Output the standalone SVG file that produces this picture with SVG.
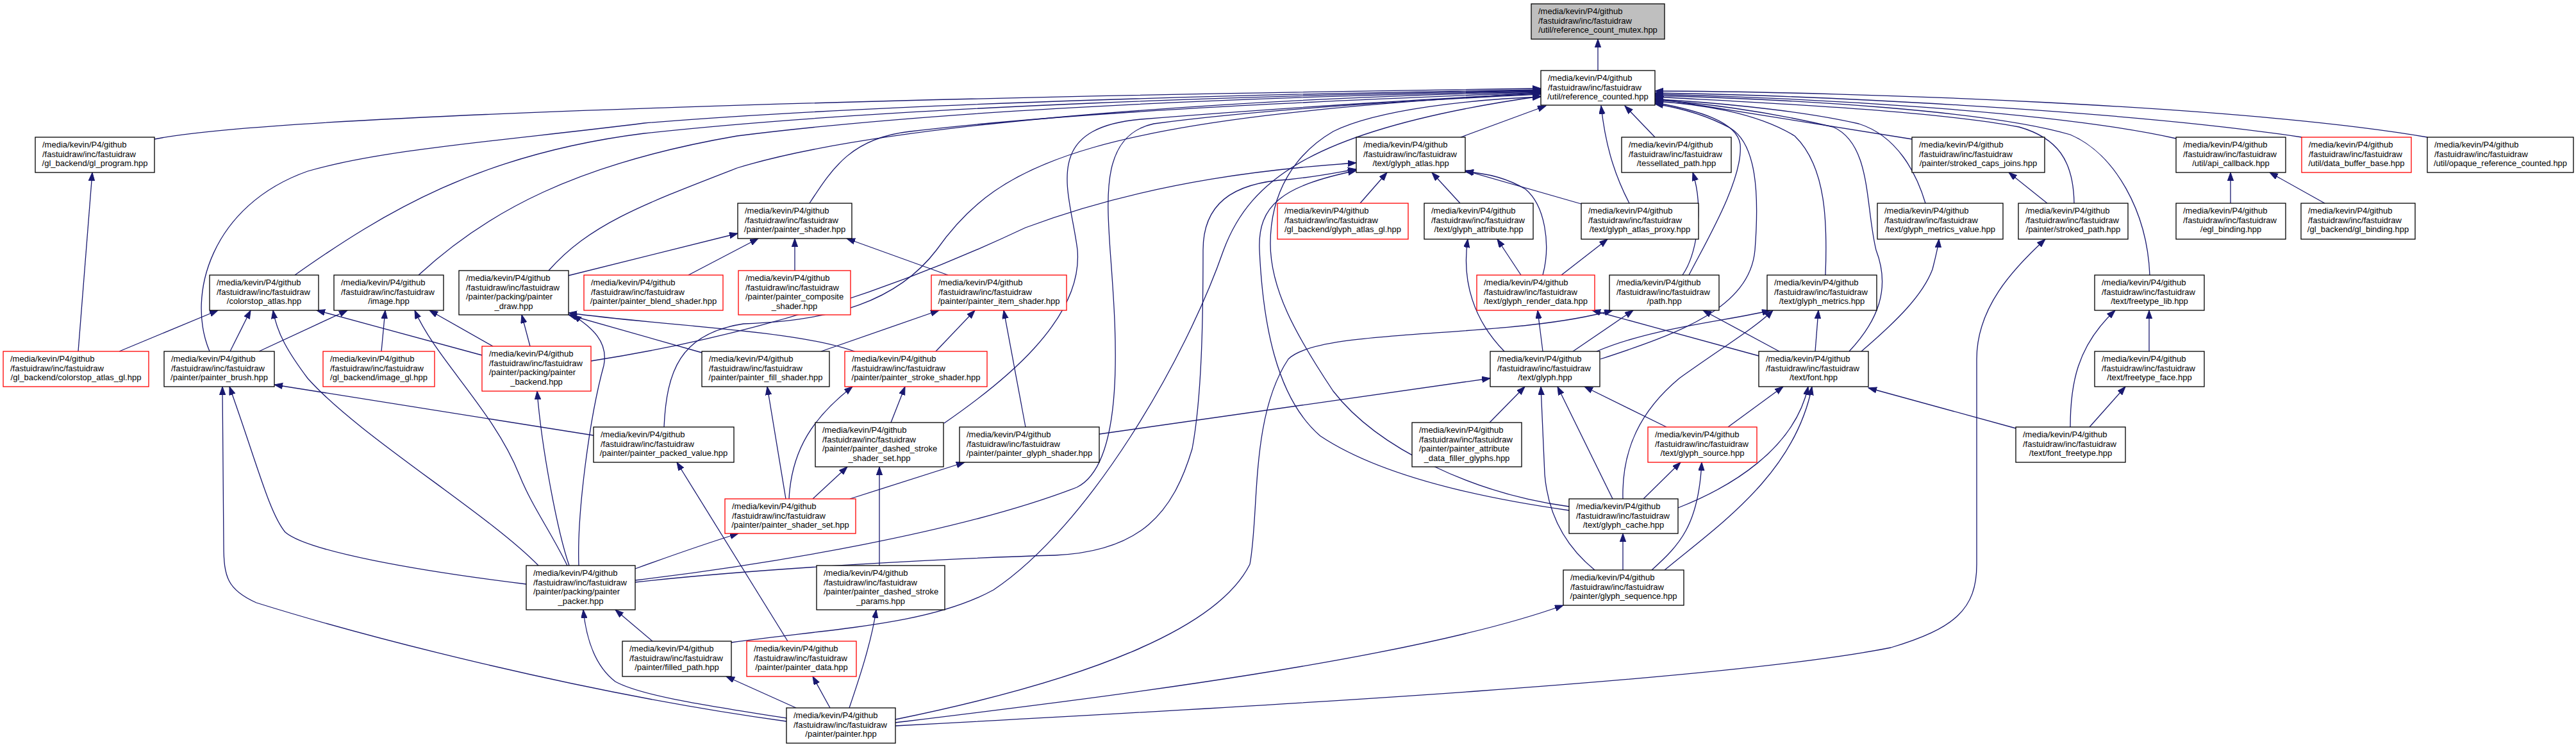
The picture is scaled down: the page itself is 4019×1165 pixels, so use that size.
<svg xmlns="http://www.w3.org/2000/svg" width="4019" height="1165" viewBox="0 0 4019 1165">
<defs>
<marker id="a" markerUnits="userSpaceOnUse" markerWidth="14" markerHeight="10" refX="13" refY="4.7" orient="auto"><path d="M0,0L13,4.7L0,9.4z" fill="#191970" stroke="#191970" stroke-width="1"/></marker>
<style>
.n rect{fill:#fff;stroke:#000;stroke-width:1.3}
.r rect{stroke:#f00}
.g rect{fill:#bfbfbf}
text{font-family:"Liberation Sans",Arial,Helvetica,sans-serif;font-size:13px;fill:#000}
.c{text-anchor:middle}
.e path{fill:none;stroke:#191970;stroke-width:1.3;marker-end:url(#a)}
</style>
</defs>
<rect width="4019" height="1165" fill="#fff"/>
<g class="e" id="edges">
<path d="M2493,110 L2493,61"/>
<path d="M241,217 C430,178 1500,150 2404,138"/>
<path d="M327,548 C290,460 330,320 480,267 C600,232 800,218 1005,192 C1400,160 2000,146 2404,140"/>
<path d="M460,429 C600,330 750,240 1005,208 C1400,165 2000,148 2404,141"/>
<path d="M653,429 C760,330 900,255 1150,212 C1500,168 2000,150 2404,142"/>
<path d="M856,422 C920,350 1000,320 1150,262 C1400,185 2000,152 2404,143"/>
<path d="M1263,317 C1300,260 1330,215 1420,205 C1700,172 2100,156 2404,144"/>
<path d="M1036,666 C1040,580 1060,520 1160,505 C1300,500 1400,470 1461,390 C1560,250 1700,185 2404,145"/>
<path d="M1473,660 C1560,600 1690,500 1681,390 C1670,300 1620,200 1780,186 C2000,168 2300,150 2404,146"/>
<path d="M991,905 C1200,880 1500,830 1680,760 C1760,720 1740,500 1732,390 C1726,300 1720,210 1800,193 C2000,166 2300,152 2404,147"/>
<path d="M1141,1002 C1300,980 1450,975 1550,920 C1700,820 1850,560 1909,390 C1950,280 2050,200 2404,150"/>
<path d="M2448,790 C2300,770 2150,700 2080,610 C2020,520 1982,450 1982,380 C1982,300 2020,240 2080,205 C2150,170 2300,155 2404,151"/>
<path d="M2279,214 L2412,165"/>
<path d="M2542,317 C2516,267 2504,220 2498,165"/>
<path d="M2582,214 L2535,165"/>
<path d="M2635,429 C2660,380 2720,280 2715,225 C2710,190 2650,172 2582,160"/>
<path d="M2497,560 C2620,520 2730,480 2738,390 C2745,300 2740,225 2700,200 C2660,178 2620,168 2582,162"/>
<path d="M2848,429 C2851,350 2850,260 2800,212 C2740,175 2650,162 2582,158"/>
<path d="M2885,548 C2930,500 2950,450 2927,390 C2910,320 2920,225 2860,198 C2750,172 2650,160 2582,156"/>
<path d="M3004,317 C2990,270 2960,212 2900,193 C2800,170 2650,158 2582,155"/>
<path d="M2983,217 L2582,153"/>
<path d="M3236,317 C3235,250 3210,215 3150,198 C3000,170 2700,158 2582,151"/>
<path d="M3354,429 C3350,330 3300,240 3230,210 C3100,172 2800,155 2582,149"/>
<path d="M3395,216 C3200,172 2800,152 2582,147"/>
<path d="M3591,214 C3300,170 2800,148 2582,145"/>
<path d="M3787,214 C3500,165 2900,143 2582,142"/>
<path d="M122,548 L144,269"/>
<path d="M186,548 L340,484"/>
<path d="M359,548 L391,484"/>
<path d="M404,548 L542,484"/>
<path d="M595,548 L601,484"/>
<path d="M840,882 C760,800 560,680 480,590 C450,550 432,520 426,484"/>
<path d="M885,882 C860,830 830,790 810,740 C770,640 680,560 647,484"/>
<path d="M888,882 C870,830 845,700 838,610"/>
<path d="M903,882 C900,800 920,650 942,570 C950,530 920,510 894,491"/>
<path d="M821,911 C650,890 480,860 445,830 C420,800 400,720 358,603"/>
<path d="M991,887 C1060,862 1110,845 1152,832"/>
<path d="M991,908 C1200,885 1500,870 1646,866 C1780,860 1830,800 1860,700 C1875,620 1877,500 1877,390 C1877,320 1920,285 2010,280 C2060,275 2090,268 2116,264"/>
<path d="M1227,1120 C1100,1100 1000,1085 960,1063 C930,1040 915,1000 910,951"/>
<path d="M1227,1125 C900,1080 560,990 400,940 C355,920 349,900 349,850 L347,603"/>
<path d="M1242,1104 L1133,1055"/>
<path d="M1295,1104 L1268,1055"/>
<path d="M1325,1104 C1340,1060 1360,1000 1367,951"/>
<path d="M1397,1122 C1700,1060 1900,980 1950,880 C1965,800 1950,650 2010,560 C2060,510 2350,530 2516,484"/>
<path d="M1397,1127 C1700,1090 2200,1030 2439,944"/>
<path d="M1397,1132 C2000,1100 2700,1060 2950,1010 C3050,980 3084,950 3084,880 L3084,560 C3084,480 3140,420 3191,373"/>
<path d="M1229,1000 L1056,721"/>
<path d="M1018,1000 L960,951"/>
<path d="M1372,882 L1372,728"/>
<path d="M1226,778 L1197,603"/>
<path d="M1231,778 C1235,700 1270,650 1330,603"/>
<path d="M1268,778 L1322,728"/>
<path d="M1326,778 L1505,721"/>
<path d="M1390,659 L1412,603"/>
<path d="M1281,548 L1465,484"/>
<path d="M1460,548 L1521,484"/>
<path d="M1600,666 L1566,484"/>
<path d="M1095,550 L887,491"/>
<path d="M1338,550 C1250,515 1050,510 887,488"/>
<path d="M886,430 L1151,364"/>
<path d="M1074,429 L1183,372"/>
<path d="M1240,422 L1240,372"/>
<path d="M1479,429 L1321,372"/>
<path d="M752,554 L494,484"/>
<path d="M769,540 L670,484"/>
<path d="M827,540 L814,491"/>
<path d="M922,563 C1200,520 1420,440 1600,355 C1800,280 2000,262 2116,254"/>
<path d="M926,679 L428,600"/>
<path d="M1715,677 L2325,590"/>
<path d="M2122,317 L2164,269"/>
<path d="M2278,317 L2234,269"/>
<path d="M2467,318 L2286,266"/>
<path d="M2407,429 C2420,380 2410,320 2380,295 C2350,277 2320,270 2286,268"/>
<path d="M2373,429 L2336,373"/>
<path d="M2436,429 L2508,373"/>
<path d="M2347,548 C2300,500 2280,440 2290,373"/>
<path d="M2407,548 L2399,484"/>
<path d="M2454,548 L2548,484"/>
<path d="M2491,548 C2580,510 2700,500 2762,484"/>
<path d="M2776,548 L2657,484"/>
<path d="M2832,548 L2837,484"/>
<path d="M2744,555 L2484,484"/>
<path d="M2904,548 C2960,500 3000,460 3015,420 C3020,400 3024,385 3025,373"/>
<path d="M2324,659 L2379,603"/>
<path d="M2600,666 L2472,603"/>
<path d="M2696,666 L2782,603"/>
<path d="M2516,778 L2430,603"/>
<path d="M2564,778 L2622,721"/>
<path d="M2532,778 C2530,700 2560,640 2620,590 C2690,540 2740,510 2766,484"/>
<path d="M2618,792 C2700,760 2800,700 2821,603"/>
<path d="M2532,889 L2532,832"/>
<path d="M2488,889 C2440,850 2415,800 2410,740 L2404,603"/>
<path d="M2577,889 C2620,850 2650,820 2655,721"/>
<path d="M2597,889 C2680,820 2800,740 2827,603"/>
<path d="M2448,796 C2300,775 2150,740 2060,680 C1990,620 1970,500 1965,390 C1962,320 2000,290 2116,266"/>
<path d="M3194,317 L3134,269"/>
<path d="M3480,317 L3480,269"/>
<path d="M3627,317 L3541,269"/>
<path d="M3353,548 L3353,484"/>
<path d="M3260,666 L3316,603"/>
<path d="M3230,666 C3230,600 3240,540 3300,484"/>
<path d="M3145,668 L2915,605"/>
<path d="M2625,429 C2645,400 2660,330 2641,269"/>
</g>
<g id="mutex" class="n g"><rect x="2389" y="6" width="208" height="55"/><text x="2400" y="22">/media/kevin/P4/github</text><text x="2400" y="36.7">/fastuidraw/inc/fastuidraw</text><text class="c" x="2493" y="51.4">/util/reference_count_mutex.hpp</text></g>
<g id="counted" class="n"><rect x="2404" y="110" width="178" height="54"/><text x="2415" y="126">/media/kevin/P4/github</text><text x="2415" y="140.7">/fastuidraw/inc/fastuidraw</text><text class="c" x="2493" y="155.4">/util/reference_counted.hpp</text></g>
<g id="gl_program" class="n"><rect x="55" y="214" width="186" height="55"/><text x="66" y="230">/media/kevin/P4/github</text><text x="66" y="244.7">/fastuidraw/inc/fastuidraw</text><text class="c" x="148" y="259.4">/gl_backend/gl_program.hpp</text></g>
<g id="glyph_atlas" class="n"><rect x="2116" y="214" width="170" height="55"/><text x="2127" y="230">/media/kevin/P4/github</text><text x="2127" y="244.7">/fastuidraw/inc/fastuidraw</text><text class="c" x="2201" y="259.4">/text/glyph_atlas.hpp</text></g>
<g id="tessellated_path" class="n"><rect x="2530" y="214" width="171" height="55"/><text x="2541" y="230">/media/kevin/P4/github</text><text x="2541" y="244.7">/fastuidraw/inc/fastuidraw</text><text class="c" x="2615.5" y="259.4">/tessellated_path.hpp</text></g>
<g id="stroked_caps_joins" class="n"><rect x="2983" y="214" width="207" height="55"/><text x="2994" y="230">/media/kevin/P4/github</text><text x="2994" y="244.7">/fastuidraw/inc/fastuidraw</text><text class="c" x="3086.5" y="259.4">/painter/stroked_caps_joins.hpp</text></g>
<g id="api_callback" class="n"><rect x="3395" y="214" width="171" height="55"/><text x="3406" y="230">/media/kevin/P4/github</text><text x="3406" y="244.7">/fastuidraw/inc/fastuidraw</text><text class="c" x="3480.5" y="259.4">/util/api_callback.hpp</text></g>
<g id="data_buffer_base" class="n r"><rect x="3591" y="214" width="171" height="55"/><text x="3602" y="230">/media/kevin/P4/github</text><text x="3602" y="244.7">/fastuidraw/inc/fastuidraw</text><text class="c" x="3676.5" y="259.4">/util/data_buffer_base.hpp</text></g>
<g id="opaque_reference_counted" class="n"><rect x="3787" y="214" width="228" height="55"/><text x="3798" y="230">/media/kevin/P4/github</text><text x="3798" y="244.7">/fastuidraw/inc/fastuidraw</text><text class="c" x="3901" y="259.4">/util/opaque_reference_counted.hpp</text></g>
<g id="painter_shader" class="n"><rect x="1151" y="317" width="178" height="55"/><text x="1162" y="333">/media/kevin/P4/github</text><text x="1162" y="347.7">/fastuidraw/inc/fastuidraw</text><text class="c" x="1240" y="362.4">/painter/painter_shader.hpp</text></g>
<g id="glyph_atlas_gl" class="n r"><rect x="1993" y="317" width="204" height="56"/><text x="2004" y="333">/media/kevin/P4/github</text><text x="2004" y="347.7">/fastuidraw/inc/fastuidraw</text><text class="c" x="2095" y="362.4">/gl_backend/glyph_atlas_gl.hpp</text></g>
<g id="glyph_attribute" class="n"><rect x="2222" y="317" width="170" height="56"/><text x="2233" y="333">/media/kevin/P4/github</text><text x="2233" y="347.7">/fastuidraw/inc/fastuidraw</text><text class="c" x="2307" y="362.4">/text/glyph_attribute.hpp</text></g>
<g id="glyph_atlas_proxy" class="n"><rect x="2467" y="317" width="183" height="56"/><text x="2478" y="333">/media/kevin/P4/github</text><text x="2478" y="347.7">/fastuidraw/inc/fastuidraw</text><text class="c" x="2558.5" y="362.4">/text/glyph_atlas_proxy.hpp</text></g>
<g id="glyph_metrics_value" class="n"><rect x="2929" y="317" width="196" height="56"/><text x="2940" y="333">/media/kevin/P4/github</text><text x="2940" y="347.7">/fastuidraw/inc/fastuidraw</text><text class="c" x="3027" y="362.4">/text/glyph_metrics_value.hpp</text></g>
<g id="stroked_path" class="n"><rect x="3149" y="317" width="171" height="56"/><text x="3160" y="333">/media/kevin/P4/github</text><text x="3160" y="347.7">/fastuidraw/inc/fastuidraw</text><text class="c" x="3234.5" y="362.4">/painter/stroked_path.hpp</text></g>
<g id="egl_binding" class="n"><rect x="3395" y="317" width="171" height="56"/><text x="3406" y="333">/media/kevin/P4/github</text><text x="3406" y="347.7">/fastuidraw/inc/fastuidraw</text><text class="c" x="3480.5" y="362.4">/egl_binding.hpp</text></g>
<g id="gl_binding" class="n"><rect x="3590" y="317" width="178" height="56"/><text x="3601" y="333">/media/kevin/P4/github</text><text x="3601" y="347.7">/fastuidraw/inc/fastuidraw</text><text class="c" x="3679" y="362.4">/gl_backend/gl_binding.hpp</text></g>
<g id="colorstop_atlas" class="n"><rect x="327" y="429" width="170" height="55"/><text x="338" y="445">/media/kevin/P4/github</text><text x="338" y="459.7">/fastuidraw/inc/fastuidraw</text><text class="c" x="412" y="474.4">/colorstop_atlas.hpp</text></g>
<g id="image" class="n"><rect x="521" y="429" width="171" height="55"/><text x="532" y="445">/media/kevin/P4/github</text><text x="532" y="459.7">/fastuidraw/inc/fastuidraw</text><text class="c" x="606.5" y="474.4">/image.hpp</text></g>
<g id="painter_draw" class="n"><rect x="716" y="422" width="171" height="69"/><text x="727" y="438">/media/kevin/P4/github</text><text x="727" y="452.7">/fastuidraw/inc/fastuidraw</text><text x="727" y="467.4">/painter/packing/painter</text><text class="c" x="801.5" y="482.1">_draw.hpp</text></g>
<g id="painter_blend_shader" class="n r"><rect x="911" y="429" width="217" height="55"/><text x="922" y="445">/media/kevin/P4/github</text><text x="922" y="459.7">/fastuidraw/inc/fastuidraw</text><text class="c" x="1019.5" y="474.4">/painter/painter_blend_shader.hpp</text></g>
<g id="painter_composite_shader" class="n r"><rect x="1152" y="422" width="175" height="69"/><text x="1163" y="438">/media/kevin/P4/github</text><text x="1163" y="452.7">/fastuidraw/inc/fastuidraw</text><text x="1163" y="467.4">/painter/painter_composite</text><text class="c" x="1239.5" y="482.1">_shader.hpp</text></g>
<g id="painter_item_shader" class="n r"><rect x="1453" y="429" width="211" height="55"/><text x="1464" y="445">/media/kevin/P4/github</text><text x="1464" y="459.7">/fastuidraw/inc/fastuidraw</text><text class="c" x="1558.5" y="474.4">/painter/painter_item_shader.hpp</text></g>
<g id="glyph_render_data" class="n r"><rect x="2304" y="429" width="184" height="55"/><text x="2315" y="445">/media/kevin/P4/github</text><text x="2315" y="459.7">/fastuidraw/inc/fastuidraw</text><text class="c" x="2396" y="474.4">/text/glyph_render_data.hpp</text></g>
<g id="path" class="n"><rect x="2511" y="429" width="171" height="55"/><text x="2522" y="445">/media/kevin/P4/github</text><text x="2522" y="459.7">/fastuidraw/inc/fastuidraw</text><text class="c" x="2596.5" y="474.4">/path.hpp</text></g>
<g id="glyph_metrics" class="n"><rect x="2757" y="429" width="171" height="55"/><text x="2768" y="445">/media/kevin/P4/github</text><text x="2768" y="459.7">/fastuidraw/inc/fastuidraw</text><text class="c" x="2842.5" y="474.4">/text/glyph_metrics.hpp</text></g>
<g id="freetype_lib" class="n"><rect x="3268" y="429" width="171" height="55"/><text x="3279" y="445">/media/kevin/P4/github</text><text x="3279" y="459.7">/fastuidraw/inc/fastuidraw</text><text class="c" x="3353.5" y="474.4">/text/freetype_lib.hpp</text></g>
<g id="colorstop_atlas_gl" class="n r"><rect x="5" y="548" width="227" height="55"/><text x="16" y="564">/media/kevin/P4/github</text><text x="16" y="578.7">/fastuidraw/inc/fastuidraw</text><text class="c" x="118.5" y="593.4">/gl_backend/colorstop_atlas_gl.hpp</text></g>
<g id="painter_brush" class="n"><rect x="256" y="548" width="172" height="55"/><text x="267" y="564">/media/kevin/P4/github</text><text x="267" y="578.7">/fastuidraw/inc/fastuidraw</text><text class="c" x="342" y="593.4">/painter/painter_brush.hpp</text></g>
<g id="image_gl" class="n r"><rect x="504" y="548" width="174" height="55"/><text x="515" y="564">/media/kevin/P4/github</text><text x="515" y="578.7">/fastuidraw/inc/fastuidraw</text><text class="c" x="591" y="593.4">/gl_backend/image_gl.hpp</text></g>
<g id="painter_backend" class="n r"><rect x="752" y="540" width="170" height="70"/><text x="763" y="556">/media/kevin/P4/github</text><text x="763" y="570.7">/fastuidraw/inc/fastuidraw</text><text x="763" y="585.4">/painter/packing/painter</text><text class="c" x="837" y="600.1">_backend.hpp</text></g>
<g id="painter_fill_shader" class="n"><rect x="1095" y="548" width="199" height="55"/><text x="1106" y="564">/media/kevin/P4/github</text><text x="1106" y="578.7">/fastuidraw/inc/fastuidraw</text><text class="c" x="1194.5" y="593.4">/painter/painter_fill_shader.hpp</text></g>
<g id="painter_stroke_shader" class="n r"><rect x="1318" y="548" width="222" height="55"/><text x="1329" y="564">/media/kevin/P4/github</text><text x="1329" y="578.7">/fastuidraw/inc/fastuidraw</text><text class="c" x="1429" y="593.4">/painter/painter_stroke_shader.hpp</text></g>
<g id="glyph" class="n"><rect x="2325" y="548" width="171" height="55"/><text x="2336" y="564">/media/kevin/P4/github</text><text x="2336" y="578.7">/fastuidraw/inc/fastuidraw</text><text class="c" x="2410.5" y="593.4">/text/glyph.hpp</text></g>
<g id="font" class="n"><rect x="2744" y="548" width="171" height="55"/><text x="2755" y="564">/media/kevin/P4/github</text><text x="2755" y="578.7">/fastuidraw/inc/fastuidraw</text><text class="c" x="2829.5" y="593.4">/text/font.hpp</text></g>
<g id="freetype_face" class="n"><rect x="3268" y="548" width="171" height="55"/><text x="3279" y="564">/media/kevin/P4/github</text><text x="3279" y="578.7">/fastuidraw/inc/fastuidraw</text><text class="c" x="3353.5" y="593.4">/text/freetype_face.hpp</text></g>
<g id="painter_packed_value" class="n"><rect x="926" y="666" width="219" height="55"/><text x="937" y="682">/media/kevin/P4/github</text><text x="937" y="696.7">/fastuidraw/inc/fastuidraw</text><text class="c" x="1035.5" y="711.4">/painter/painter_packed_value.hpp</text></g>
<g id="painter_dashed_stroke_shader_set" class="n"><rect x="1272" y="659" width="200" height="69"/><text x="1283" y="675">/media/kevin/P4/github</text><text x="1283" y="689.7">/fastuidraw/inc/fastuidraw</text><text x="1283" y="704.4">/painter/painter_dashed_stroke</text><text class="c" x="1372" y="719.1">_shader_set.hpp</text></g>
<g id="painter_glyph_shader" class="n"><rect x="1497" y="666" width="218" height="55"/><text x="1508" y="682">/media/kevin/P4/github</text><text x="1508" y="696.7">/fastuidraw/inc/fastuidraw</text><text class="c" x="1606" y="711.4">/painter/painter_glyph_shader.hpp</text></g>
<g id="painter_attribute_data_filler_glyphs" class="n"><rect x="2203" y="659" width="171" height="69"/><text x="2214" y="675">/media/kevin/P4/github</text><text x="2214" y="689.7">/fastuidraw/inc/fastuidraw</text><text x="2214" y="704.4">/painter/painter_attribute</text><text class="c" x="2288.5" y="719.1">_data_filler_glyphs.hpp</text></g>
<g id="glyph_source" class="n r"><rect x="2571" y="666" width="170" height="55"/><text x="2582" y="682">/media/kevin/P4/github</text><text x="2582" y="696.7">/fastuidraw/inc/fastuidraw</text><text class="c" x="2656" y="711.4">/text/glyph_source.hpp</text></g>
<g id="font_freetype" class="n"><rect x="3145" y="666" width="171" height="55"/><text x="3156" y="682">/media/kevin/P4/github</text><text x="3156" y="696.7">/fastuidraw/inc/fastuidraw</text><text class="c" x="3230.5" y="711.4">/text/font_freetype.hpp</text></g>
<g id="painter_shader_set" class="n r"><rect x="1131" y="778" width="204" height="54"/><text x="1142" y="794">/media/kevin/P4/github</text><text x="1142" y="808.7">/fastuidraw/inc/fastuidraw</text><text class="c" x="1233" y="823.4">/painter/painter_shader_set.hpp</text></g>
<g id="glyph_cache" class="n"><rect x="2448" y="778" width="170" height="54"/><text x="2459" y="794">/media/kevin/P4/github</text><text x="2459" y="808.7">/fastuidraw/inc/fastuidraw</text><text class="c" x="2533" y="823.4">/text/glyph_cache.hpp</text></g>
<g id="painter_packer" class="n"><rect x="821" y="882" width="170" height="69"/><text x="832" y="898">/media/kevin/P4/github</text><text x="832" y="912.7">/fastuidraw/inc/fastuidraw</text><text x="832" y="927.4">/painter/packing/painter</text><text class="c" x="906" y="942.1">_packer.hpp</text></g>
<g id="painter_dashed_stroke_params" class="n"><rect x="1274" y="882" width="200" height="69"/><text x="1285" y="898">/media/kevin/P4/github</text><text x="1285" y="912.7">/fastuidraw/inc/fastuidraw</text><text x="1285" y="927.4">/painter/painter_dashed_stroke</text><text class="c" x="1374" y="942.1">_params.hpp</text></g>
<g id="glyph_sequence" class="n"><rect x="2439" y="889" width="188" height="55"/><text x="2450" y="905">/media/kevin/P4/github</text><text x="2450" y="919.7">/fastuidraw/inc/fastuidraw</text><text class="c" x="2533" y="934.4">/painter/glyph_sequence.hpp</text></g>
<g id="filled_path" class="n"><rect x="971" y="1000" width="170" height="55"/><text x="982" y="1016">/media/kevin/P4/github</text><text x="982" y="1030.7">/fastuidraw/inc/fastuidraw</text><text class="c" x="1056" y="1045.4">/painter/filled_path.hpp</text></g>
<g id="painter_data" class="n r"><rect x="1165" y="1000" width="171" height="55"/><text x="1176" y="1016">/media/kevin/P4/github</text><text x="1176" y="1030.7">/fastuidraw/inc/fastuidraw</text><text class="c" x="1250.5" y="1045.4">/painter/painter_data.hpp</text></g>
<g id="painter" class="n"><rect x="1227" y="1104" width="170" height="55"/><text x="1238" y="1120">/media/kevin/P4/github</text><text x="1238" y="1134.7">/fastuidraw/inc/fastuidraw</text><text class="c" x="1312" y="1149.4">/painter/painter.hpp</text></g>
</svg>
